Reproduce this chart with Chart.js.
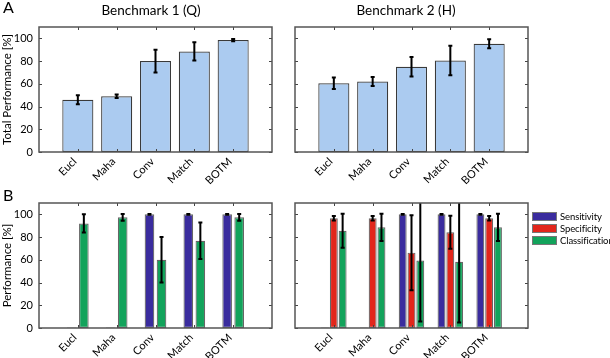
<!DOCTYPE html>
<html>
<head>
<meta charset="utf-8">
<script src="https://cdn.jsdelivr.net/npm/chart.js@4"></script>
<style>
  body { margin: 0; background: #fff; font-family: Lato, sans-serif; color: #000; }
  #wrap { position: relative; width: 610px; height: 358px; overflow: hidden; }
  canvas { position: absolute; }
  .lbl { position: absolute; white-space: nowrap; }
  .panel { font-size: 16px; }
  .title { font-size: 13.5px; transform: translateX(-50%); }
  #legend { position: absolute; left: 532px; top: 210px; font-size: 9.5px; letter-spacing: -0.1px; }
  #legend div { display: flex; align-items: center; height: 12.3px; }
  #legend span.sw { display: inline-block; width: 23px; height: 7px; border: 1px solid #777; margin-right: 3px; }
</style>
</head>
<body>
<div id="wrap">
  <canvas id="bLeft" width="300" height="178" style="left:0;top:180px"></canvas>
  <canvas id="bRight" width="300" height="178" style="left:256px;top:180px"></canvas>
  <canvas id="aLeft" width="300" height="190" style="left:0;top:0"></canvas>
  <canvas id="aRight" width="300" height="190" style="left:256px;top:0"></canvas>
  <div class="lbl panel" style="left:3px;top:-3px">A</div>
  <div class="lbl panel" style="left:3px;top:185px">B</div>
  <div class="lbl title" style="left:151px;top:2px">Benchmark 1 (Q)</div>
  <div class="lbl title" style="left:406px;top:2px">Benchmark 2 (H)</div>
  <div id="legend"></div>
</div>
<script>
// ---- data ----
const methods = ["Eucl", "Maha", "Conv", "Match", "BOTM"];
const yTicks = [0, 20, 40, 60, 80, 100];

// A: total performance
const totalQ = [46, 49, 80, 88.5, 98.5];
const totalQErr = [4, 1.5, 10, 8, 1];
const totalH = [60.5, 62, 75, 80.5, 95.3];
const totalHErr = [5, 4, 8.5, 13, 4];

// B: benchmark 1 (no specificity)
const sensQ = [0.5, 0.5, 100, 100, 100];
const sensQErr = [0, 0, 0.4, 0.4, 0.4];
const classQ = [92, 97.4, 60, 76.8, 97.4];
const classQErr = [8, 3, 20, 16, 3];

// B: benchmark 2
const sensH = [0.5, 0.5, 100, 100, 100];
const sensHErr = [0, 0, 0.4, 0.4, 0.4];
const specH = [96.5, 96.5, 66.3, 84.2, 96.5];
const specHErr = [2, 2, 33, 14.5, 2];
const classH = [85.6, 88.6, 59.3, 58.2, 88.6];
const classHErr = [15, 12, 53.5, 53.3, 12];

const seriesNames = ["Sensitivity", "Specificity", "Classification"];
const seriesColors = ["#3a2c9e", "#e2261b", "#12a35b"];
const totalColor = "#abcbf0";

const FONT = { family: "Lato, sans-serif", size: 11 };
const TITLE_FONT = { family: "Lato, sans-serif", size: 11.5 };

// empty slot either side so the five methods sit at 1..5 on a 0..6 axis
const pad = arr => [null, ...arr, null];
const labels = ["", ...methods, ""];

// error bars, clipped to the plot box
const errorBarPlugin = {
  id: "errorBars",
  afterDatasetsDraw(chart) {
    const { ctx, chartArea: a, scales: { y } } = chart;
    ctx.save();
    ctx.beginPath();
    ctx.rect(a.left, a.top, a.right - a.left, a.bottom - a.top);
    ctx.clip();
    ctx.strokeStyle = "#000";
    ctx.lineWidth = 2;
    chart.data.datasets.forEach((ds, di) => {
      if (!ds.errorBars) return;
      const meta = chart.getDatasetMeta(di);
      meta.data.forEach((bar, i) => {
        const v = ds.data[i], e = ds.errorBars[i];
        if (v == null || !e) return;
        const top = y.getPixelForValue(v + e);
        const bot = y.getPixelForValue(v - e);
        ctx.beginPath();
        ctx.moveTo(bar.x, top); ctx.lineTo(bar.x, bot);
        ctx.moveTo(bar.x - 2, top); ctx.lineTo(bar.x + 2, top);
        ctx.moveTo(bar.x - 2, bot); ctx.lineTo(bar.x + 2, bot);
        ctx.stroke();
      });
    });
    ctx.restore();
  }
};

// matlab style box with inward ticks on all four sides
const boxPlugin = {
  id: "box",
  afterDraw(chart) {
    const { ctx, chartArea: a, scales: { x, y } } = chart;
    ctx.save();
    ctx.strokeStyle = "#444";
    ctx.lineWidth = 1;
    ctx.beginPath();
    yTicks.forEach(t => {
      const py = Math.round(y.getPixelForValue(t)) + 0.5;
      ctx.moveTo(a.left, py); ctx.lineTo(a.left + 3, py);
      ctx.moveTo(a.right, py); ctx.lineTo(a.right - 3, py);
    });
    methods.forEach((m, i) => {
      const px = Math.round(x.getPixelForValue(i + 1)) + 0.5;
      ctx.moveTo(px, a.top); ctx.lineTo(px, a.top + 3);
      ctx.moveTo(px, a.bottom); ctx.lineTo(px, a.bottom - 3);
    });
    ctx.stroke();
    ctx.strokeStyle = "#555";
    ctx.lineWidth = 1.5;
    ctx.strokeRect(a.left, a.top, a.right - a.left, a.bottom - a.top);
    ctx.restore();
  }
};

function makeChart(id, datasets, opts) {
  new Chart(document.getElementById(id), {
    type: "bar",
    data: { labels, datasets },
    plugins: [errorBarPlugin, boxPlugin],
    options: {
      responsive: false,
      animation: false,
      devicePixelRatio: 1,
      categoryPercentage: opts.cat,
      barPercentage: opts.bar,
      layout: { padding: { top: opts.top, right: 28, left: 0, bottom: 0 } },
      plugins: { legend: { display: false }, tooltip: { enabled: false } },
      scales: {
        x: {
          offset: false,
          grid: { display: false, drawTicks: false },
          border: { display: false },
          ticks: { autoSkip: false, minRotation: 45, maxRotation: 45, padding: 3, labelOffset: -3, font: FONT, color: "#000" },
          afterFit: s => { s.height = opts.xh; }
        },
        y: {
          min: 0, max: 110,
          grid: { display: false, drawTicks: false },
          border: { display: false },
          ticks: { display: opts.showY, padding: 6, font: FONT, color: "#000" },
          afterBuildTicks: s => { s.ticks = yTicks.map(v => ({ value: v })); },
          title: { display: !!opts.yTitle, text: opts.yTitle, font: TITLE_FONT, color: "#000", padding: 0 },
          afterFit: s => { s.width = 39; }
        }
      }
    }
  });
}

const barBorder = { borderColor: "#3a3a3a", borderWidth: 1.2, borderSkipped: false };

makeChart("aLeft",
  [{ data: pad(totalQ), errorBars: pad(totalQErr), backgroundColor: totalColor, ...barBorder }],
  { cat: 0.8, bar: 1.0, top: 27, xh: 38, showY: true, yTitle: "Total Performance [%]" });

makeChart("aRight",
  [{ data: pad(totalH), errorBars: pad(totalHErr), backgroundColor: totalColor, ...barBorder }],
  { cat: 0.8, bar: 1.0, top: 27, xh: 38, showY: false });

const bBorder = { borderColor: "#666", borderWidth: 1.2, borderSkipped: false };

makeChart("bLeft", [
  { label: seriesNames[0], data: pad(sensQ), errorBars: pad(sensQErr), backgroundColor: seriesColors[0], ...bBorder },
  { label: seriesNames[2], data: pad(classQ), errorBars: pad(classQErr), backgroundColor: seriesColors[2], ...bBorder }
], { cat: 0.62, bar: 0.8, top: 23, xh: 30, showY: true, yTitle: "Performance [%]" });

makeChart("bRight", [
  { label: seriesNames[0], data: pad(sensH), errorBars: pad(sensHErr), backgroundColor: seriesColors[0], ...bBorder },
  { label: seriesNames[1], data: pad(specH), errorBars: pad(specHErr), backgroundColor: seriesColors[1], ...bBorder },
  { label: seriesNames[2], data: pad(classH), errorBars: pad(classHErr), backgroundColor: seriesColors[2], ...bBorder }
], { cat: 0.68, bar: 0.9, top: 23, xh: 30, showY: false });

// legend for panel B
const legend = document.getElementById("legend");
seriesNames.forEach((name, i) => {
  const row = document.createElement("div");
  row.innerHTML = `<span class="sw" style="background:${seriesColors[i]}"></span>${name}`;
  legend.appendChild(row);
});
</script>
</body>
</html>
